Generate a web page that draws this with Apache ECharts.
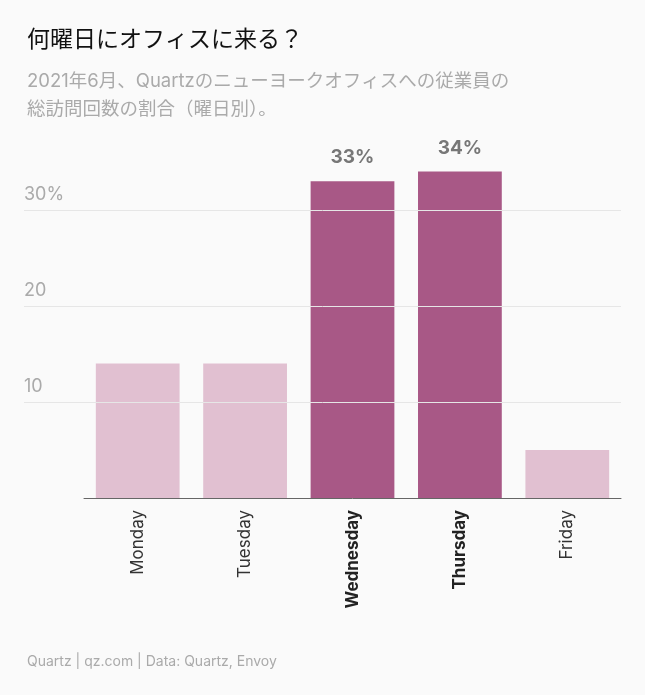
<!DOCTYPE html><html><head><meta charset="utf-8">
<script src="https://cdn.jsdelivr.net/npm/echarts@6/dist/echarts.min.js"></script>
<style>html,body{margin:0;background:#fafafa}#c{width:645px;height:695px}</style></head><body><div id="c"></div><script>
const categories=['Monday','Tuesday','Wednesday','Thursday','Friday'];
const values=[14,14,33,34,5];
const highlight=[false,false,true,true,false];
const gridValues=[10,20,30];
const tickLabels={10:'10',20:'20',30:'30%'};
const font='Inter,"Noto Sans CJK JP",sans-serif';
const ch=echarts.init(document.getElementById('c'));
ch.setOption({
backgroundColor:'#fafafa',
textStyle:{fontFamily:font},
title:[{text:'何曜日にオフィスに来る？',left:22,top:24,textStyle:{fontSize:23,fontWeight:'normal',color:'#111',fontFamily:font}},
{text:'2021年6月、Quartzのニューヨークオフィスへの従業員の\n総訪問回数の割合（曜日別）。',left:22,top:62,textStyle:{fontSize:18.5,fontWeight:'normal',color:'#aaa',lineHeight:28,fontFamily:font}},
{text:'Quartz | qz.com | Data: Quartz, Envoy',left:22,top:650,textStyle:{fontSize:14,fontWeight:'normal',color:'#aaa',fontFamily:font}}],
grid:[{left:24,right:24,top:162,bottom:197},{left:84,right:24,top:162,bottom:197}],
xAxis:[{gridIndex:0,type:'value',show:false,min:0,max:1},
{gridIndex:1,type:'category',data:categories,axisTick:{show:false},axisLine:{lineStyle:{color:'#666'}},
axisLabel:{rotate:90,fontSize:17,color:'#333',margin:12,formatter:(v,i)=>highlight[i]?'{b|'+v+'}':v,rich:{b:{fontWeight:'bold',fontSize:17,color:'#222'}}}}],
yAxis:[{gridIndex:0,type:'value',min:0,max:35,interval:10,axisLine:{show:false},axisTick:{show:false},
splitLine:{show:false},
axisLabel:{inside:true,verticalAlign:'bottom',margin:0,padding:[0,0,6,0],fontSize:18,color:'#aaa',formatter:v=>tickLabels[v]||''}},
{gridIndex:1,type:'value',min:0,max:35,show:false}],
series:[{type:'line',xAxisIndex:0,yAxisIndex:0,data:[],silent:true,
markLine:{symbol:'none',silent:true,label:{show:false},lineStyle:{color:'#e6e6e6',type:'solid',width:1},data:gridValues.map(v=>({yAxis:v}))}},
{type:'bar',xAxisIndex:1,yAxisIndex:1,barCategoryGap:'22%',
data:values.map((v,i)=>({value:v,itemStyle:{color:highlight[i]?'#a85886':'#e1c0d1'},
label:{show:highlight[i],position:'top',distance:14,formatter:'{c}%',fontSize:19,fontWeight:'bold',color:'#777'}}))}],
animation:false
});
</script></body></html>
